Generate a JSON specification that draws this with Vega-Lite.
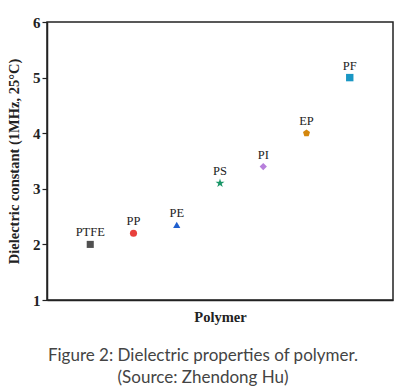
{
  "$schema": "https://vega.github.io/schema/vega-lite/v6.json",
  "width": 346,
  "height": 278,
  "autosize": "none",
  "padding": {"left": 47, "top": 22, "right": 7, "bottom": 92},
  "background": "white",
  "view": {"stroke": "#222", "strokeWidth": 1.5},
  "data": {"values": [
    {"polymer": "PTFE", "k": 2.0},
    {"polymer": "PP", "k": 2.2},
    {"polymer": "PE", "k": 2.35},
    {"polymer": "PS", "k": 3.1},
    {"polymer": "PI", "k": 3.4},
    {"polymer": "EP", "k": 4.0},
    {"polymer": "PF", "k": 5.0}
  ]},
  "title": {
    "text": ["Figure 2: Dielectric properties of polymer.", "(Source: Zhendong Hu)"],
    "orient": "bottom",
    "anchor": "middle",
    "dx": -17,
    "offset": 24,
    "font": "Lato",
    "fontSize": 17,
    "fontWeight": "normal",
    "color": "#444",
    "lineHeight": 22
  },
  "encoding": {
    "x": {
      "field": "polymer", "type": "nominal",
      "sort": ["PTFE", "PP", "PE", "PS", "PI", "EP", "PF"],
      "scale": {"type": "point", "padding": 1},
      "axis": {"title": "Polymer", "labels": false, "ticks": false, "domainColor": "#222", "domainWidth": 1.5,
        "titleFont": "Liberation Serif", "titleFontSize": 14.5, "titleFontWeight": "bold", "titleColor": "#222", "titlePadding": 10}
    },
    "y": {
      "field": "k", "type": "quantitative",
      "scale": {"domain": [1, 6], "nice": false, "zero": false},
      "axis": {
        "title": "Dielectric constant (1MHz, 25°C)",
        "values": [1, 1.5, 2, 2.5, 3, 3.5, 4, 4.5, 5, 5.5, 6],
        "format": "d",
        "labelExpr": "datum.value % 1 === 0 ? datum.label : ''",
        "grid": false,
        "domainColor": "#222", "domainWidth": 1.5,
        "tickColor": "#222", "tickWidth": 1.2,
        "tickSize": {"condition": {"test": "datum.value % 1 !== 0", "value": 3}, "value": 5},
        "labelFont": "Liberation Serif", "labelFontSize": 15, "labelFontWeight": "bold", "labelColor": "#222", "labelPadding": 2,
        "titleFont": "Liberation Serif", "titleFontSize": 14.5, "titleFontWeight": "bold", "titleColor": "#222", "titlePadding": 11
      }
    }
  },
  "layer": [
    {
      "mark": {"type": "point", "filled": true, "opacity": 1},
      "encoding": {
        "shape": {"field": "polymer", "type": "nominal", "legend": null,
          "scale": {"domain": ["PTFE", "PP", "PE", "PS", "PI", "EP", "PF"],
            "range": ["square", "circle", "triangle-up", "M0,-1.3L0.29,-0.4L1.24,-0.4L0.47,0.15L0.76,1.05L0,0.5L-0.76,1.05L-0.47,0.15L-1.24,-0.4L-0.29,-0.4Z", "diamond", "M0,-1L0.951,-0.309L0.588,0.809L-0.588,0.809L-0.951,-0.309Z", "square"]}},
        "color": {"field": "polymer", "type": "nominal", "legend": null,
          "scale": {"domain": ["PTFE", "PP", "PE", "PS", "PI", "EP", "PF"],
            "range": ["#505050", "#e8403c", "#1f5fcf", "#1a9668", "#b77fdb", "#d4870e", "#1a97c4"]}},
        "size": {"field": "polymer", "type": "nominal", "legend": null,
          "scale": {"domain": ["PTFE", "PP", "PE", "PS", "PI", "EP", "PF"],
            "range": [50, 55, 75, 60, 75, 60, 50]}}
      }
    },
    {
      "mark": {"type": "text", "dy": -12, "font": "Liberation Serif", "fontSize": 12.5, "color": "#222"},
      "encoding": {"text": {"field": "polymer"}}
    }
  ]
}
